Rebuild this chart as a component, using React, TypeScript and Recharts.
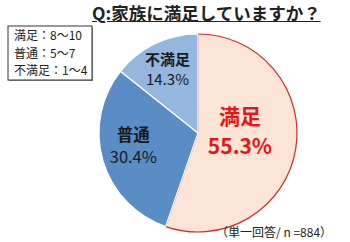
import { PieChart, Pie, Cell } from 'recharts';

const categories = ['満足', '普通', '不満足'];
const shares = [55.3, 30.4, 14.3];
const legendLines = ['満足：8～10', '普通：5～7', '不満足：1～4'];

const fills = ['#FCE4D6', '#5A8CC6', '#95B6DE'];
const strokes = ['#D42A2A', '#FFFFFF', '#FFFFFF'];

const data = categories.map((name, i) => ({ name, value: shares[i] }));

const font = '"Noto Sans CJK JP", "Noto Sans", sans-serif';

// per-slice label placement (fraction of radius), vertical nudge and type sizes
const labelRadius = [0.43, 0.68, 0.71];
const labelNudge = [-8, -6, 0];
const labelSize = [21, 16.5, 15];
const labelColor = ['#E8141B', '#1a1a1a', '#1a1a1a'];
const lineGap = [30, 22, 20];

const RADIAN = Math.PI / 180;

function renderLabel(props: any) {
  const { cx, cy, midAngle, outerRadius, index, name, value } = props;
  const r = outerRadius * labelRadius[index];
  const x = cx + r * Math.cos(-midAngle * RADIAN);
  const y = cy + r * Math.sin(-midAngle * RADIAN) + labelNudge[index];
  const fs = labelSize[index];
  return (
    <text x={x} y={y} textAnchor="middle" fill={labelColor[index]} fontFamily={font} fontSize={fs}>
      <tspan x={x} dy={-lineGap[index] / 2 + fs * 0.35} fontWeight="bold">{name}</tspan>
      <tspan x={x} dy={lineGap[index]} fontWeight={index === 0 ? 'bold' : 'normal'}>{value.toFixed(1)}%</tspan>
    </text>
  );
}

export default function App() {
  return (
    <div style={{ position: 'absolute', left: 0, top: 0, width: 350, height: 242, background: '#fff', fontFamily: font }}>
      <PieChart width={350} height={242}>
        <Pie
          data={data}
          dataKey="value"
          cx={193}
          cy={128}
          outerRadius={99}
          startAngle={90}
          endAngle={-270}
          label={renderLabel}
          labelLine={false}
          isAnimationActive={false}
        >
          {data.map((d, i) => (
            <Cell key={d.name} fill={fills[i]} stroke={strokes[i]} strokeWidth={1.2} />
          ))}
        </Pie>
      </PieChart>
      <div style={{ position: 'absolute', left: 92, top: 0, fontSize: 17.5, fontWeight: 'bold', color: '#222', textDecoration: 'underline', whiteSpace: 'nowrap' }}>
        Q:家族に満足していますか？
      </div>
      <svg width={88} height={58} style={{ position: 'absolute', left: 7, top: 25 }}>
        <rect x={2} y={2} width={84} height={54} fill="#999" />
        <rect x={1} y={1} width={84} height={54} fill="#fff" stroke="#333" strokeWidth={1} />
        {legendLines.map((t, i) => (
          <text key={t} x={7} y={15 + i * 17.6} fontFamily={font} fontSize={12} fill="#222">{t}</text>
        ))}
      </svg>
      <div style={{ position: 'absolute', left: 216, top: 223, fontSize: 12, color: '#222', whiteSpace: 'nowrap' }}>
        （単一回答/ n =884）
      </div>
    </div>
  );
}
